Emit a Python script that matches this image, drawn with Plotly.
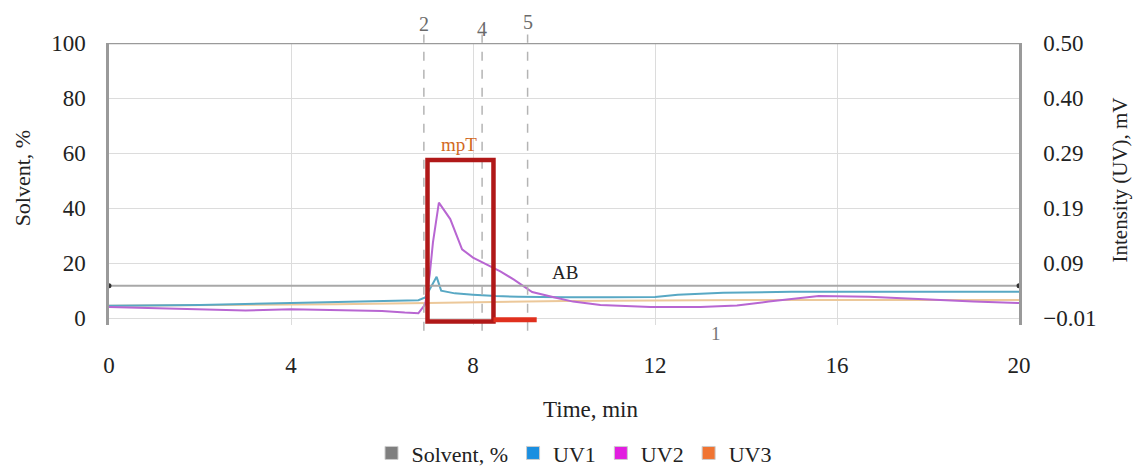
import plotly.graph_objects as go

# ---- data ----
uv2_t = [0, 1, 2, 3, 4, 5, 6, 6.5, 6.8, 6.95, 7.05, 7.12, 7.25, 7.5, 7.76, 8.0, 8.3, 8.6, 8.9, 9.3, 9.8, 10.2, 10.8, 11.9, 13.0, 13.8, 14.5, 15.6, 16.7, 18.1, 19.0, 20]
uv2_v = [4.0, 3.6, 3.2, 2.8, 3.2, 3.0, 2.6, 2.0, 1.8, 5.0, 16.0, 27.5, 42.0, 36.0, 25.0, 22.0, 19.5, 17.0, 14.0, 9.5, 7.5, 6.0, 4.8, 4.0, 4.0, 4.6, 6.0, 8.0, 7.8, 6.6, 6.0, 5.5]

uv1_t = [0, 2, 4, 6, 6.8, 6.95, 7.1, 7.2, 7.3, 7.6, 8.0, 8.5, 9.0, 9.5, 10, 11, 12, 12.5, 13.5, 15, 17, 20]
uv1_v = [4.5, 4.8, 5.5, 6.2, 6.5, 7.5, 12.0, 15.0, 10.0, 9.0, 8.5, 8.0, 7.8, 7.6, 7.6, 7.6, 7.7, 8.5, 9.2, 9.6, 9.6, 9.6]

uv3_t = [0, 3, 5, 7, 10, 14, 20]
uv3_v = [4.5, 4.8, 5.0, 5.5, 6.2, 6.6, 6.6]

solvent_t = [0, 20]
solvent_v = [11.8, 11.8]

x_ticks = [0, 4, 8, 12, 16, 20]
y_ticks = [0, 20, 40, 60, 80, 100]
y2_labels = ["\u22120.01", "0.09", "0.19", "0.29", "0.40", "0.50"]

marker_times = [6.92, 8.2, 9.2]
marker_labels = ["2", "4", "5"]

FONT = "Liberation Serif"
TXT = "#222222"

fig = go.Figure()

fig.add_trace(go.Scatter(x=uv3_t, y=uv3_v, mode="lines", line=dict(color="#ecc89a", width=2), showlegend=False))
fig.add_trace(go.Scatter(x=uv1_t, y=uv1_v, mode="lines", line=dict(color="#58a8c4", width=2), showlegend=False))
fig.add_trace(go.Scatter(x=uv2_t, y=uv2_v, mode="lines", line=dict(color="#b866d2", width=2), showlegend=False))
fig.add_trace(go.Scatter(x=solvent_t, y=solvent_v, mode="lines+markers",
                         line=dict(color="#a8a8a8", width=2),
                         marker=dict(color="#333333", size=5), showlegend=False))

# legend entries
for name, col in [("Solvent, %", "#7f7f7f"), ("UV1", "#1b8fe0"), ("UV2", "#e21ee0"), ("UV3", "#f07432")]:
    fig.add_trace(go.Scatter(x=[None], y=[None], mode="markers", name=name,
                             marker=dict(symbol="square", size=13, color=col,
                                         line=dict(color="#cccccc", width=1))))

# right axis dummy trace
fig.add_trace(go.Scatter(x=[None], y=[None], yaxis="y2", showlegend=False))

shapes = []
shapes.append(dict(type="line", xref="x", yref="y", x0=0, x1=20, y0=100, y1=100,
                   line=dict(color="#9a9a9a", width=2.5)))
for t in marker_times:
    shapes.append(dict(type="line", xref="x", yref="paper", x0=t, x1=t, y0=-0.02, y1=1.03,
                       line=dict(color="#b4b4b4", width=1.5, dash="dash")))
shapes.append(dict(type="rect", xref="x", yref="y", x0=7.0, x1=8.45, y0=-1.2, y1=57.5,
                   line=dict(color="#b01818", width=4.5)))
shapes.append(dict(type="line", xref="x", yref="y", x0=8.45, x1=9.4, y0=-0.6, y1=-0.6,
                   line=dict(color="#e0301e", width=5)))

annotations = []
for t, lab, yy in zip(marker_times, marker_labels, [1.068, 1.05, 1.075]):
    annotations.append(dict(x=t, y=yy, xref="x", yref="paper", text=lab, showarrow=False,
                            xanchor="center", yanchor="middle",
                            font=dict(family=FONT, size=20, color="#6a6a6a")))
annotations += [
    dict(x=7.7, y=63, xref="x", yref="y", text="mpT", showarrow=False, xanchor="center", yanchor="middle",
         font=dict(family=FONT, size=19, color="#d2691e")),
    dict(x=10.02, y=16.7, xref="x", yref="y", text="AB", showarrow=False, xanchor="center", yanchor="middle",
         font=dict(family=FONT, size=19, color=TXT)),
    dict(x=13.35, y=-0.03, xref="x", yref="paper", text="1", showarrow=False, xanchor="center", yanchor="middle",
         font=dict(family=FONT, size=19, color="#777777")),
    dict(x=0.53, y=-0.301, xref="paper", yref="paper", text="Time, min", showarrow=False,
         xanchor="center", yanchor="middle", font=dict(family=FONT, size=23, color=TXT)),
    dict(x=-0.0956, y=0.52, xref="paper", yref="paper", text="Solvent, %", showarrow=False,
         xanchor="center", yanchor="middle", textangle=-90, font=dict(family=FONT, size=22, color=TXT)),
    dict(x=1.1115, y=0.514, xref="paper", yref="paper", text="Intensity (UV), mV", showarrow=False,
         xanchor="center", yanchor="middle", textangle=-90, font=dict(family=FONT, size=21, color=TXT)),
]

fig.update_layout(
    width=1134, height=467,
    margin=dict(l=109, r=115, t=43, b=142, autoexpand=False),
    paper_bgcolor="white", plot_bgcolor="white",
    font=dict(family=FONT, size=23, color=TXT),
    xaxis=dict(range=[0, 20], tickvals=x_ticks, showgrid=True, gridcolor="#dcdcdc", gridwidth=1.2,
               zeroline=False, showline=False, ticks="", ticklabelstandoff=24,
               tickfont=dict(family=FONT, size=23, color=TXT)),
    yaxis=dict(range=[-2.5, 100], tickvals=y_ticks, showgrid=True, gridcolor="#dcdcdc", gridwidth=1.2,
               zeroline=False, showline=True, linecolor="#9a9a9a", linewidth=2.5, ticks="",
               ticklabelstandoff=16, tickfont=dict(family=FONT, size=23, color=TXT)),
    yaxis2=dict(range=[-2.5, 100], overlaying="y", side="right", tickvals=y_ticks, ticktext=y2_labels,
                showgrid=False, zeroline=False, showline=True, linecolor="#9a9a9a", linewidth=2.5,
                ticks="", ticklabelstandoff=17, tickfont=dict(family=FONT, size=23, color=TXT)),
    legend=dict(orientation="h", x=0.511, xanchor="center", y=-0.38, yanchor="top",
                font=dict(family=FONT, size=22, color=TXT), itemwidth=30, maxheight=200,
                bgcolor="rgba(0,0,0,0)"),
    shapes=shapes,
    annotations=annotations,
)

fig.write_html("out.html")
